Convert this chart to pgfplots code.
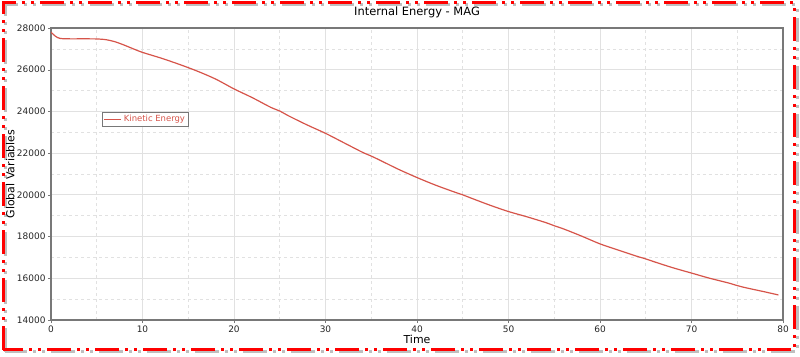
\documentclass[border=0pt]{standalone}
\usepackage{pgfplots}
\pgfplotsset{compat=1.18}
\usepackage{fontspec}
\setmainfont{DejaVu Sans}
\definecolor{curve}{RGB}{214,84,74}
\definecolor{gridc}{RGB}{225,225,225}
\definecolor{axc}{RGB}{120,120,120}
\begin{document}
\begin{tikzpicture}
\useasboundingbox (0bp,0bp) rectangle (800bp,357bp);
% shadow
\draw[line width=3bp, gray!50, dash pattern=on 24bp off 6bp on 3bp off 6bp on 3bp off 6bp] (5bp,5bp) rectangle (797bp,352bp);
\draw[line width=3bp, red, dash pattern=on 24bp off 6bp on 3bp off 6bp on 3bp off 6bp] (3bp,7bp) rectangle (794bp,354bp);
\begin{axis}[
  at={(51bp,37bp)}, anchor=south west,
  width=732bp, height=292bp, scale only axis,
  xmin=0, xmax=80, ymin=14000, ymax=28000,
  xtick={0,10,...,80}, ytick={14000,16000,...,28000},
  minor xtick={5,15,...,75}, minor ytick={15000,17000,...,27000},
  grid=both,
  major grid style={gridc, line width=0.8bp},
  minor grid style={gridc, dashed, line width=0.6bp},
  axis line style={axc, line width=1.5bp},
  tick style={axc},
  major tick length=3bp, minor tick length=0pt,
  tick align=outside, xtick pos=bottom, ytick pos=left,
  ticklabel style={font=\fontsize{9}{10}\selectfont, text=black!85},
  xticklabel style={yshift=1bp},
  /pgf/number format/assume math mode=true,
  scaled y ticks=false,
  yticklabel style={/pgf/number format/1000 sep={}, xshift=1bp},
  xlabel={Time}, ylabel={Global Variables},
  label style={font=\fontsize{11}{12}\selectfont},
  xlabel style={at={(0.5,0)}, anchor=north, yshift=-12bp},
  ylabel style={at={(0,0.5)}, anchor=south, rotate=0, yshift=33bp},
  title={Internal Energy - MAG},
  title style={font=\fontsize{11.5}{13}\selectfont, at={(0.5,1)}, anchor=south, yshift=1bp},
  legend style={at={(0.07,0.712)}, anchor=north west, draw=axc, line width=0.8bp,
    font=\fontsize{8.5}{9}\selectfont, text=curve, inner sep=1bp},
  legend cell align=left,
]
\addplot[curve, line width=1.2bp, smooth] coordinates {
(0,27800) (0.5,27600) (1,27500) (2,27480) (3,27480) (4,27480) (5,27475) (6,27440) (7,27340) (8,27180) (9,27000) (10,26830) (12,26560) (14,26260) (16,25930) (18,25550) (20,25080) (22,24660) (24,24200) (25,24020) (26,23780) (28,23350) (30,22950) (32,22500) (34,22050) (35,21860) (36,21650) (38,21220) (40,20830) (42,20470) (44,20150) (45,20000) (46,19830) (48,19500) (50,19200) (52,18950) (54,18680) (55,18520) (56,18370) (58,18020) (60,17650) (62,17350) (64,17060) (65,16930) (66,16780) (68,16500) (70,16250) (72,16000) (74,15780) (75,15650) (76,15540) (78,15350) (79.5,15200)
};
\addlegendentry{Kinetic Energy}
\end{axis}
\end{tikzpicture}
\end{document}
